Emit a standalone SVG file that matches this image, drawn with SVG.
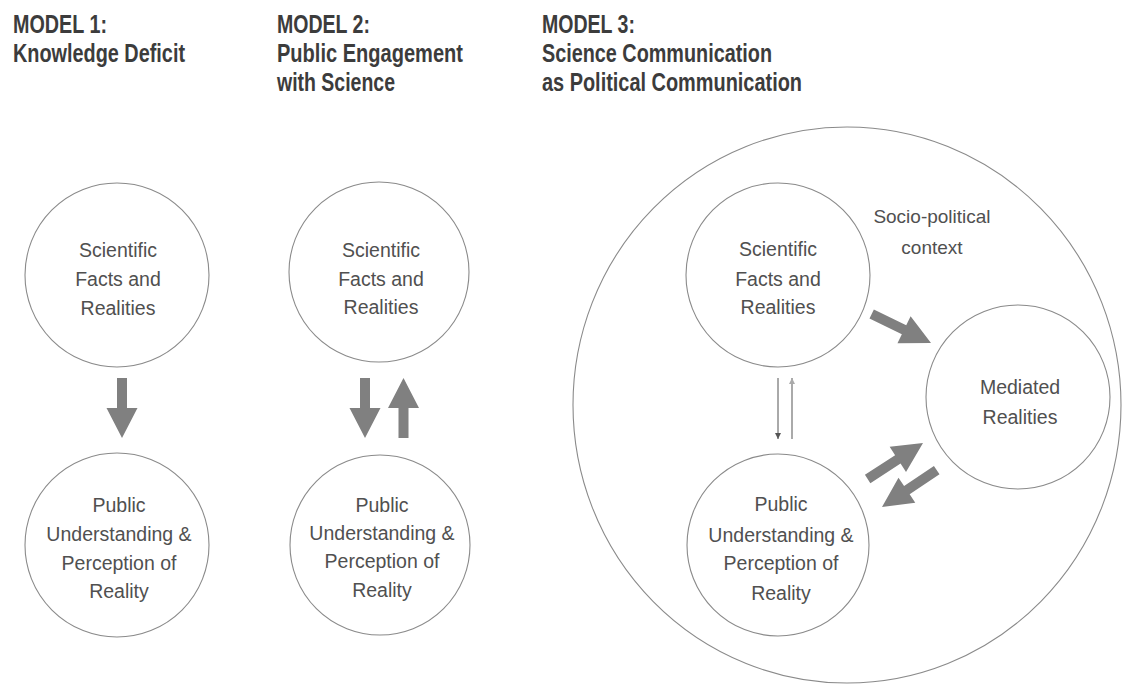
<svg xmlns="http://www.w3.org/2000/svg" width="1123" height="685" viewBox="0 0 1123 685">
<style>
.title{font-family:"Liberation Sans",Arial,sans-serif;font-weight:bold;font-size:25px;fill:#3c3c3c}
.lbl{font-family:"Liberation Sans",Arial,sans-serif;font-size:19.5px;fill:#505050;text-anchor:middle}
.node{fill:#fff;stroke:#8a8a8a;stroke-width:1.1}
.big{fill:#808080}
</style>
<defs>
<path id="av" d="M0,0 L-30,-15.5 L-30,-5 L-60,-5 L-60,5 L-30,5 L-30,15.5 Z"/>
<path id="ad" d="M0,0 L-30,-15 L-30,-5 L-66,-5 L-66,5 L-30,5 L-30,15 Z"/>
<marker id="hd" markerWidth="8" markerHeight="8" refX="6" refY="3" orient="auto" markerUnits="userSpaceOnUse">
<path d="M0,0 L6,3 L0,6 Z" fill="#555"/>
</marker>
<marker id="hl" markerWidth="8" markerHeight="8" refX="6" refY="3" orient="auto" markerUnits="userSpaceOnUse">
<path d="M0,0 L6,3 L0,6 Z" fill="#aaa"/>
</marker>
</defs>
<rect width="1123" height="685" fill="#fff"/>

<g id="titles">
<text class="title" x="13" y="33" textLength="94" lengthAdjust="spacingAndGlyphs">MODEL 1:</text>
<text class="title" x="13" y="62" textLength="172" lengthAdjust="spacingAndGlyphs">Knowledge Deficit</text>
<text class="title" x="277" y="33" textLength="93" lengthAdjust="spacingAndGlyphs">MODEL 2:</text>
<text class="title" x="277" y="62" textLength="186" lengthAdjust="spacingAndGlyphs">Public Engagement</text>
<text class="title" x="277" y="91" textLength="118" lengthAdjust="spacingAndGlyphs">with Science</text>
<text class="title" x="542" y="33" textLength="93" lengthAdjust="spacingAndGlyphs">MODEL 3:</text>
<text class="title" x="542" y="62" textLength="230" lengthAdjust="spacingAndGlyphs">Science Communication</text>
<text class="title" x="542" y="91" textLength="260" lengthAdjust="spacingAndGlyphs">as Political Communication</text>
</g>

<g id="context">
<ellipse class="node" cx="847" cy="405" rx="274" ry="278"/>
<text class="lbl" style="font-size:19px" x="932" y="223">Socio-political</text>
<text class="lbl" style="font-size:19px" x="932" y="254">context</text>
</g>

<g id="m1-science">
<circle class="node" cx="117" cy="275" r="92"/>
<text class="lbl" x="118" y="257">Scientific</text>
<text class="lbl" x="118" y="286">Facts and</text>
<text class="lbl" x="118" y="315">Realities</text>
</g>
<g id="m1-public">
<circle class="node" cx="117" cy="545" r="92"/>
<text class="lbl" x="119" y="512">Public</text>
<text class="lbl" x="119" y="541">Understanding &amp;</text>
<text class="lbl" x="119" y="570">Perception of</text>
<text class="lbl" x="119" y="598">Reality</text>
</g>

<g id="m2-science">
<circle class="node" cx="379" cy="272" r="90"/>
<text class="lbl" x="381" y="257">Scientific</text>
<text class="lbl" x="381" y="286">Facts and</text>
<text class="lbl" x="381" y="314">Realities</text>
</g>
<g id="m2-public">
<circle class="node" cx="380" cy="545" r="90"/>
<text class="lbl" x="382" y="512">Public</text>
<text class="lbl" x="382" y="540">Understanding &amp;</text>
<text class="lbl" x="382" y="568">Perception of</text>
<text class="lbl" x="382" y="597">Reality</text>
</g>

<g id="m3-science">
<circle class="node" cx="778" cy="275" r="92"/>
<text class="lbl" x="778" y="256">Scientific</text>
<text class="lbl" x="778" y="286">Facts and</text>
<text class="lbl" x="778" y="314">Realities</text>
</g>
<g id="m3-public">
<circle class="node" cx="778" cy="545" r="91"/>
<text class="lbl" x="781" y="511">Public</text>
<text class="lbl" x="781" y="542">Understanding &amp;</text>
<text class="lbl" x="781" y="570">Perception of</text>
<text class="lbl" x="781" y="600">Reality</text>
</g>
<g id="m3-mediated">
<circle class="node" cx="1018" cy="397" r="92"/>
<text class="lbl" x="1020" y="394">Mediated</text>
<text class="lbl" x="1020" y="424">Realities</text>
</g>

<g id="connectors">
<use href="#av" class="big" transform="translate(122,438) rotate(90)"/>
<use href="#av" class="big" transform="translate(365,438) rotate(90)"/>
<use href="#av" class="big" transform="translate(403.5,378) rotate(-90)"/>
<line x1="778" y1="378" x2="778" y2="439" stroke="#555" stroke-width="1" marker-end="url(#hd)"/>
<line x1="792" y1="439" x2="792" y2="378" stroke="#aaa" stroke-width="2" marker-end="url(#hl)"/>
<use href="#ad" class="big" transform="translate(931,343) rotate(26)"/>
<use href="#ad" class="big" transform="translate(923,443) rotate(-33)"/>
<use href="#ad" class="big" transform="translate(882,507) rotate(146)"/>
</g>
</svg>
